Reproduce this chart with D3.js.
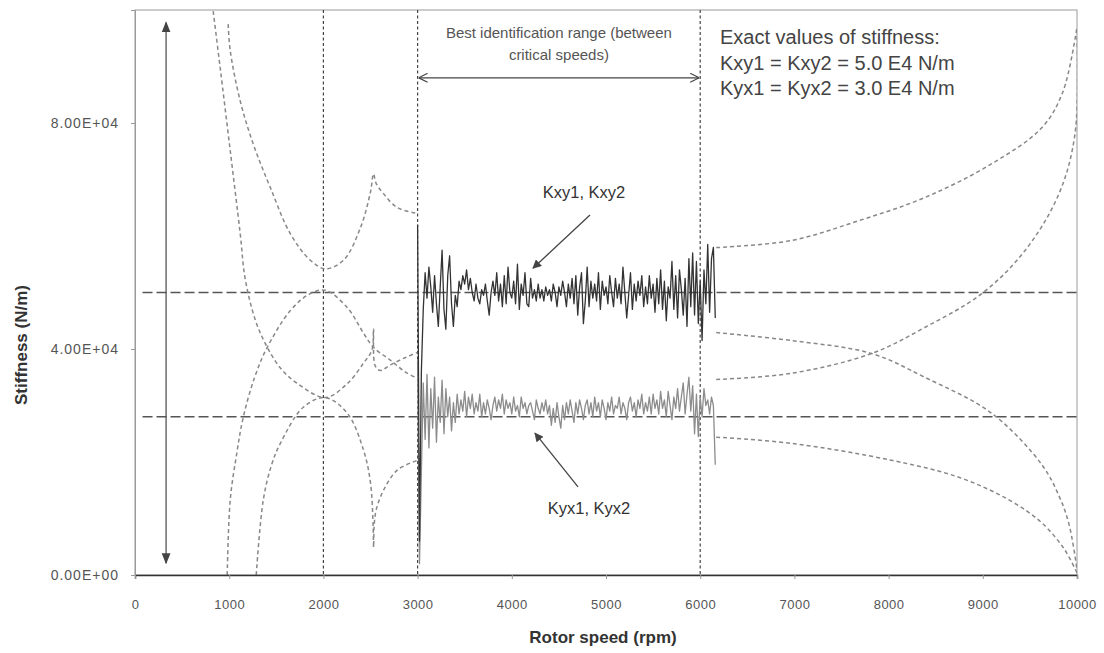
<!DOCTYPE html>
<html>
<head>
<meta charset="utf-8">
<script src="https://cdn.jsdelivr.net/npm/d3@7"></script>
<style>
  html, body { margin: 0; padding: 0; background: #ffffff; }
  svg { display: block; font-family: "Liberation Sans", Arial, sans-serif; }
</style>
</head>
<body>
<svg id="chart" width="1104" height="653"></svg>
<script>
// ---------------- DATA ----------------
const xTickValues = [0, 1000, 2000, 3000, 4000, 5000, 6000, 7000, 8000, 9000, 10000];
const yTickValues = [0, 40000, 80000];
const yTickLabels = ["0.00E+00", "4.00E+04", "8.00E+04"];

const verticalGuides = [2000, 3000, 6000];          // rpm
const referenceLevels = [50000, 28000];             // N/m (exact stiffness lines as drawn)

// identified stiffness in the best range (measured samples every 20 rpm from 3000 rpm)
const noiseStart = 3000, noiseStep = 20;
const kxyNoisy = [
  62000, 6000, 36000, 47000, 53500,
  49000, 54500, 51000, 46500, 53000,
  48000, 44000, 51000, 57500, 47000,
  43500, 53000, 56500, 48000, 44000,
  49500, 47500, 52000, 50500, 53000,
  51500, 54000, 50500, 52500, 50000,
  48500, 51500, 49000, 48000, 50500,
  49500, 51500, 48500, 46000, 50000,
  52000, 49500, 53500, 48500, 51500,
  47500, 53000, 48000, 54500, 50000,
  49000, 52000, 48000, 55000, 47000,
  51500, 49500, 53500, 48000, 47500,
  52500, 49000, 50500, 48500, 51500,
  49000, 50500, 48500, 51000, 49500,
  50500, 48500, 51500, 50000, 47500,
  51000, 49500, 52000, 50000, 47500,
  51500, 49000, 52500, 48000, 53000,
  46000, 51000, 53500, 44500, 48500,
  54500, 47500, 52000, 49000, 51500,
  48500, 53500, 47000, 52000, 49500,
  51000, 48000, 53000, 50000, 47500,
  52500, 49000, 51500, 48000, 54500,
  50000, 45500, 49500, 53500, 47000,
  51500, 48500, 52000, 49500, 53000,
  47500, 51000, 48000, 53000, 49000,
  51500, 46500, 52500, 48000, 54000,
  47000, 52000, 45000, 51000, 49000,
  55500, 47000, 53000, 45500, 54000,
  50500, 46000, 52500, 44000, 56000,
  47500, 57000, 46000, 55500, 44500,
  52000, 41500, 54000, 48000, 58500,
  46500, 56000, 58000, 45500
];
const kyxNoisy = [
  38000, 2000, 18000, 34000, 24000,
  35500, 22500, 33000, 26000, 35000,
  23500, 31500, 27000, 34500, 25000,
  33000, 28000, 31500, 25500, 30500,
  27000, 32000, 28500, 31000, 29000,
  32500, 28000, 31500, 29500, 32000,
  28500, 30500, 29000, 32000, 28000,
  30500, 28500, 31000, 29500, 27500,
  30000, 31500, 29000, 31000, 29500,
  32000, 28500, 31000, 29500, 30500,
  28500, 31500, 29000, 30000, 28000,
  31500, 29500, 30500, 28500, 30000,
  30500, 29000, 27500, 31000, 29500,
  28500, 30500, 29000, 31000, 28500,
  30000, 26500, 29500, 27000, 30500,
  28000, 26000, 30000, 27500, 30500,
  28500, 31000, 29000, 27000, 30500,
  28500, 31000, 29500, 27500, 30000,
  31000, 28500, 30500, 28000, 31500,
  29000, 30500, 28000, 31000, 29500,
  27500, 30500, 29000, 31500, 28500,
  30000, 29500, 31500, 28500, 30500,
  29500, 27500, 30500, 31500, 29000,
  30500, 28000, 31000, 29500, 32000,
  28500, 30500, 29000, 31500, 28500,
  32000, 29500, 31000, 28500, 32500,
  29500, 31000, 28000, 32500, 30000,
  27500, 31500, 29500, 33000, 29000,
  31500, 34000, 28500, 32000, 35000,
  29000, 33500, 25000, 32000, 24500,
  31500, 28000, 33000, 30000, 31000,
  28500, 31500, 30000, 19500
];

// identified stiffness outside the best range: [rpm, N/m]
const lowUpperU = [[989,97500],[1011,92800],[1117,83900],[1255,76300],[1436,68600],[1649,60400],[1862,55700],[2021,54200],[2213,55700],[2394,61500],[2500,67800],[2532,71000],[2560,69300],[2638,67500],[2787,65000],[3000,64000]];
const lowLowerU = [[830,99800],[904,89800],[1011,75100],[1117,60400],[1170,52400],[1280,45000],[1404,40300],[1550,36500],[1723,33900],[2021,31400],[2255,33900],[2426,37500],[2515,39800],[2532,43600],[2550,37000],[2606,36200],[2713,37200],[2872,38500],[3000,39400]];
const lowUpperArch = [[979,0],[1011,13300],[1080,21500],[1149,27900],[1270,35000],[1404,40300],[1649,46800],[1850,49700],[2021,50400],[2255,47300],[2426,42800],[2532,40300],[2713,38000],[2872,35900],[3000,34800]];
const lowLowerArch = [[1287,0],[1362,13300],[1450,19500],[1543,23300],[1787,29700],[2021,31400],[2255,28600],[2426,22100],[2500,16300],[2528,8500],[2533,4900],[2538,8500],[2560,11500],[2638,15000],[2787,18600],[3000,20300]];
const highRising1 = [[6170,57950],[6968,59200],[7681,62700],[8383,66800],[9096,72800],[9628,79200],[9850,85500],[10000,97000]];
const highFalling1 = [[6170,42900],[6968,41500],[7819,39200],[8383,35000],[9096,28600],[9628,19500],[9809,14000],[9915,9000],[10000,1000]];
const highRising2 = [[6170,34600],[6968,35700],[7819,39200],[8383,43800],[8989,49800],[9447,57400],[9809,67500],[9979,78100],[10000,96000]];
const highFalling2 = [[6170,24400],[6968,23300],[8032,20300],[8745,17300],[9277,13300],[9628,9200],[9872,4400],[10000,350]];
const dashedCurves = [lowUpperU, lowLowerU, lowUpperArch, lowLowerArch, highRising1, highFalling1, highRising2, highFalling2];

// annotations (data coordinates)
const rangeArrow = [3000, 6000];           // best identification range
const rangeArrowLevel = 88000;
const spanArrowRpm = 330, spanArrowFrom = 97800, spanArrowTo = 2100;
const kxyPointer = { from: [4830, 63700], to: [4225, 54300] };
const kyxPointer = { from: [4703, 15600], to: [4246, 25100] };

// ---------------- CHART ----------------
const svg = d3.select("#chart");
const x = d3.scaleLinear().domain([0, 10000]).range([135, 1077]);
const y = d3.scaleLinear().domain([0, 100000]).range([575, 10]);

const defs = svg.append("defs");
defs.append("clipPath").attr("id", "plotclip").append("rect")
  .attr("x", x(0)).attr("y", y(100000)).attr("width", x(10000) - x(0)).attr("height", y(0) - y(100000));
defs.append("marker").attr("id", "tri").attr("viewBox", "0 0 10 10").attr("refX", 9).attr("refY", 5)
  .attr("markerWidth", 9).attr("markerHeight", 9).attr("markerUnits", "userSpaceOnUse").attr("orient", "auto")
  .append("path").attr("d", "M0,0 L10,5 L0,10 z").attr("fill", "#444");
defs.append("marker").attr("id", "tri2").attr("viewBox", "0 0 10 10").attr("refX", 9).attr("refY", 5)
  .attr("markerWidth", 11).attr("markerHeight", 11).attr("markerUnits", "userSpaceOnUse").attr("orient", "auto-start-reverse")
  .append("path").attr("d", "M0,1 L10,5 L0,9 z").attr("fill", "#444");
defs.append("marker").attr("id", "chev").attr("viewBox", "0 0 10 10").attr("refX", 10).attr("refY", 5)
  .attr("markerWidth", 10).attr("markerHeight", 10).attr("markerUnits", "userSpaceOnUse").attr("orient", "auto-start-reverse")
  .append("path").attr("d", "M1,0.5 L10,5 L1,9.5").attr("fill", "none").attr("stroke", "#444").attr("stroke-width", 1.2);

// frame
svg.append("rect").attr("x", x(0)).attr("y", y(100000)).attr("width", x(10000) - x(0)).attr("height", y(0) - y(100000))
  .attr("fill", "none").attr("stroke", "#9a9a9a").attr("stroke-width", 1);

const plot = svg.append("g").attr("clip-path", "url(#plotclip)");

// vertical guides
plot.selectAll(".vg").data(verticalGuides).join("line")
  .attr("x1", d => x(d)).attr("x2", d => x(d)).attr("y1", y(100000)).attr("y2", y(0) + 4)
  .attr("stroke", "#444").attr("stroke-width", 1.2).attr("stroke-dasharray", "3,2.5");

// reference levels
plot.selectAll(".ref").data(referenceLevels).join("line")
  .attr("x1", x(80)).attr("x2", x(10000)).attr("y1", d => y(d)).attr("y2", d => y(d))
  .attr("stroke", "#555").attr("stroke-width", 1.4).attr("stroke-dasharray", "10,4");

// dashed curves
const curveLine = d3.line().x(d => x(d[0])).y(d => y(d[1])).curve(d3.curveCatmullRom.alpha(0.5));
plot.selectAll(".dc").data(dashedCurves).join("path")
  .attr("d", curveLine).attr("fill", "none")
  .attr("stroke", "#888").attr("stroke-width", 1.5).attr("stroke-dasharray", "4,3");

// noisy series
const noisyLine = d3.line().x((d, i) => x(noiseStart + i * noiseStep)).y(d => y(d));
plot.append("path").datum(kyxNoisy).attr("d", noisyLine).attr("fill", "none")
  .attr("stroke", "#8c8c8c").attr("stroke-width", 1.3).attr("stroke-linejoin", "round");
plot.append("path").datum(kxyNoisy).attr("d", noisyLine).attr("fill", "none")
  .attr("stroke", "#333").attr("stroke-width", 1.3).attr("stroke-linejoin", "round");

// axes
const xAxis = svg.append("g").attr("transform", `translate(0,${y(0)})`)
  .call(d3.axisBottom(x).tickValues(xTickValues).tickSize(4).tickPadding(21).tickFormat(d3.format("d")));
xAxis.select(".domain").attr("stroke", "#333").attr("stroke-width", 1.4);
xAxis.selectAll(".tick text").style("letter-spacing", "0.5px");
const yAxis = svg.append("g").attr("transform", `translate(${x(0)},0)`)
  .call(d3.axisLeft(y).tickValues(yTickValues).tickSize(4).tickPadding(12).tickFormat((d, i) => yTickLabels[i]));
yAxis.select(".domain").attr("stroke", "#9a9a9a");
yAxis.selectAll(".tick text").style("letter-spacing", "1px");
svg.selectAll(".tick line").attr("stroke", "#999");
svg.selectAll(".tick text").attr("fill", "#555")
  .style("font-family", "'Liberation Sans', Arial, sans-serif");
xAxis.selectAll(".tick text").style("font-size", "13px");
yAxis.selectAll(".tick text").style("font-size", "14px");

// axis titles
svg.append("text").attr("x", 603).attr("y", 643).attr("text-anchor", "middle")
  .style("font-size", "17px").style("font-weight", "bold").attr("fill", "#333").text("Rotor speed (rpm)");
svg.append("text").attr("transform", "translate(27,345) rotate(-90)").attr("text-anchor", "middle")
  .style("font-size", "17px").style("font-weight", "bold").attr("fill", "#333").text("Stiffness (N/m)");

// annotations
svg.append("line").attr("x1", x(spanArrowRpm)).attr("x2", x(spanArrowRpm))
  .attr("y1", y(spanArrowFrom)).attr("y2", y(spanArrowTo))
  .attr("stroke", "#555").attr("stroke-width", 1.3)
  .attr("marker-start", "url(#tri2)").attr("marker-end", "url(#tri2)");

svg.append("line").attr("x1", x(rangeArrow[0]) + 1).attr("x2", x(rangeArrow[1]) - 1)
  .attr("y1", y(rangeArrowLevel)).attr("y2", y(rangeArrowLevel))
  .attr("stroke", "#444").attr("stroke-width", 1.2)
  .attr("marker-start", "url(#chev)").attr("marker-end", "url(#chev)");

const midRange = x((rangeArrow[0] + rangeArrow[1]) / 2);
svg.append("text").attr("x", midRange).attr("y", 38).attr("text-anchor", "middle")
  .style("font-size", "15px").attr("fill", "#555").text("Best identification range (between");
svg.append("text").attr("x", midRange).attr("y", 60).attr("text-anchor", "middle")
  .style("font-size", "15px").attr("fill", "#555").text("critical speeds)");

const exact = ["Exact values of stiffness:", "Kxy1 = Kxy2 = 5.0 E4 N/m", "Kyx1 = Kyx2 = 3.0 E4 N/m"];
svg.selectAll(".ex").data(exact).join("text")
  .attr("x", 720).attr("y", (d, i) => 44 + i * 25.5)
  .style("font-size", "20px").attr("fill", "#444").text(d => d);

[kxyPointer, kyxPointer].forEach(p => {
  svg.append("line").attr("x1", x(p.from[0])).attr("y1", y(p.from[1]))
    .attr("x2", x(p.to[0])).attr("y2", y(p.to[1]))
    .attr("stroke", "#444").attr("stroke-width", 1.3).attr("marker-end", "url(#tri)");
});
svg.append("text").attr("x", 584).attr("y", 198).attr("text-anchor", "middle")
  .style("font-size", "16.5px").attr("fill", "#333").text("Kxy1, Kxy2");
svg.append("text").attr("x", 589).attr("y", 514).attr("text-anchor", "middle")
  .style("font-size", "16.5px").attr("fill", "#333").text("Kyx1, Kyx2");
</script>
</body>
</html>
